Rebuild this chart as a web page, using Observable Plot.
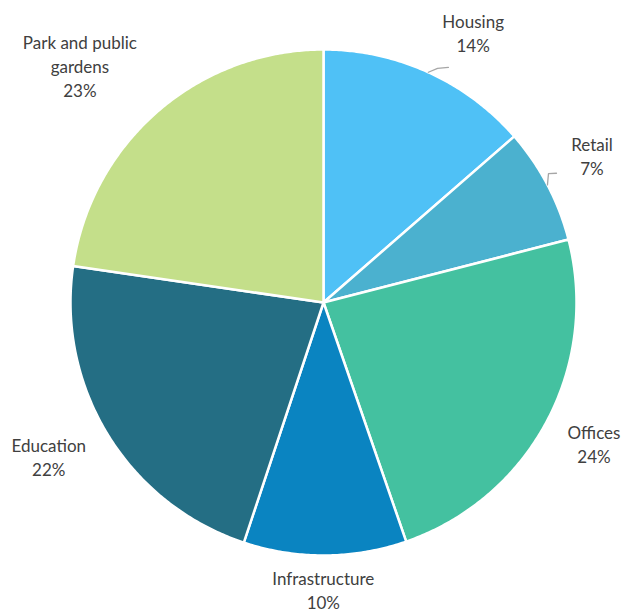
<!DOCTYPE html>
<html>
<head>
<meta charset="utf-8">
<script src="https://cdn.jsdelivr.net/npm/d3@7"></script>
<script src="https://cdn.jsdelivr.net/npm/@observablehq/plot@0.6"></script>
<style>
  html, body { margin: 0; padding: 0; background: #ffffff; }
  #chart svg { display: block; }
</style>
</head>
<body>
<div id="chart"></div>
<script>
// ---- Data ----
const categories = ["Housing", "Retail", "Offices", "Infrastructure", "Education", "Park and public gardens"];
const labelText = ["Housing", "Retail", "Offices", "Infrastructure", "Education", "Park and public\ngardens"];
const shares = [13.6, 7.4, 23.7, 10.4, 22.2, 22.7];   // slice sizes (labels show rounded %)
const colors = ["#4fc1f6", "#4bb1cf", "#44c1a0", "#0a84c1", "#246e84", "#c4df8a"];

// ---- Layout (label placement relative to each slice's mid-angle) ----
const labelAngleShift = [4.5, -1.0, -0.7, 0.4, 2.4, -4.9];   // degrees
const labelRadius = [1.221, 1.21, 1.206, 1.134, 1.245, 1.344];
const leaderFor = ["Housing", "Retail"];
const leaderShape = { Housing: [[0, 1.0], [1.5, 1.029], [3.5, 1.052]], Retail: [[0, 1.0], [-2.1, 1.025], [-1.3, 1.053]] };

const total = d3.sum(shares);
const rad = deg => deg * Math.PI / 180;
const polar = (aDeg, r) => [r * Math.sin(rad(aDeg)), r * Math.cos(rad(aDeg))];

// Build slice polygons
let acc = 0;
const slices = [];
const mids = [];
categories.forEach((c, i) => {
  const a0 = acc / total * 360;
  acc += shares[i];
  const a1 = acc / total * 360;
  mids.push((a0 + a1) / 2);
  slices.push({ cat: c, u: 0, v: 0 });
  const n = Math.max(2, Math.ceil((a1 - a0) / 0.5));
  for (let k = 0; k <= n; k++) {
    const a = a0 + (a1 - a0) * k / n;
    const [u, v] = polar(a, 1);
    slices.push({ cat: c, u, v });
  }
  slices.push({ cat: c, u: 0, v: 0 });
});

const labels = categories.map((c, i) => {
  const [u, v] = polar(mids[i] + labelAngleShift[i], labelRadius[i]);
  return { cat: c, u, v, text: labelText[i] + "\n" + Math.round(shares[i]) + "%" };
});

const leaders = [];
leaderFor.forEach(c => {
  const i = categories.indexOf(c);
  leaderShape[c].forEach(([da, r]) => {
    const [u, v] = polar(mids[i] + da, r);
    leaders.push({ cat: c, u, v });
  });
});

const W = 624, H = 612, cx = 323, cy = 302, R = 253;

const chart = Plot.plot({
  width: W,
  height: H,
  margin: 0,
  x: { domain: [-cx / R, (W - cx) / R], axis: null },
  y: { domain: [-(H - cy) / R, cy / R], axis: null },
  color: { domain: categories, range: colors },
  style: { background: "#ffffff", fontFamily: "Lato, 'Open Sans', sans-serif" },
  marks: [
    Plot.line(slices, { x: "u", y: "v", z: "cat", fill: "cat", stroke: "#ffffff", strokeWidth: 2.5, strokeLinejoin: "round" }),
    Plot.line(leaders, { x: "u", y: "v", z: "cat", stroke: "#a6a6a6", strokeWidth: 1.3 }),
    Plot.text(labels, { x: "u", y: "v", text: "text", fontSize: 17, lineHeight: 1.42, fill: "#404040" })
  ]
});

document.getElementById("chart").appendChild(chart);
</script>
</body>
</html>
